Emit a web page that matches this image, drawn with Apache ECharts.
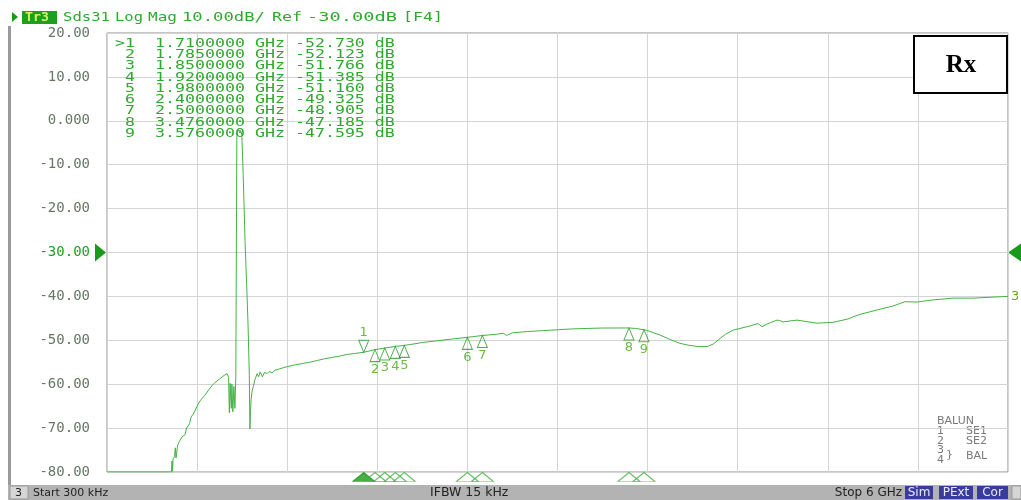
<!DOCTYPE html>
<html><head><meta charset="utf-8">
<script src="https://cdn.jsdelivr.net/npm/echarts@6/dist/echarts.min.js"></script>
<style>html,body{margin:0;padding:0;background:#fff;}#c{width:1021px;height:500px;}</style>
</head><body><div id="c"></div><script>
// ---- data ----
const traceFreqGHz = [0.0003,0.43,0.433,0.437,0.44,0.45,0.455,0.46,0.47,0.48,0.49,0.50,0.51,0.52,0.53,0.55,0.56,0.58,0.60,0.62,0.65,0.68,0.70,0.72,0.75,0.78,0.80,
  0.81,0.815,0.82,0.828,0.832,0.838,0.845,0.852,0.858,0.865,0.872,0.88,0.89,0.898,0.905,0.912,0.92,0.93,0.94,0.948,0.952,0.956,0.96,0.967,0.975,0.985,
  1.0,1.01,1.02,1.035,1.05,1.066,1.08,1.10,1.12,1.15,1.2,1.25,1.3,1.35,1.4,1.45,1.5,1.55,1.6,1.65,1.71,1.785,1.85,1.92,1.98,2.05,2.1,2.2,2.3,2.4,2.5,
  2.6,2.64,2.66,2.7,2.8,2.9,3.0,3.1,3.2,3.3,3.4,3.476,3.52,3.576,3.6,3.683,3.75,3.816,3.87,3.93,4.0,4.04,4.082,4.12,4.169,4.262,4.335,4.362,4.395,
  4.462,4.48,4.502,4.595,4.728,4.835,4.928,5.014,5.127,5.234,5.314,5.394,5.5,5.634,5.767,5.88,6.0];
const traceMagDB = [-80,-80,-77.5,-79.8,-77,-76.5,-74.5,-76.8,-74,-73.2,-73.5,-72,-71.8,-71.5,-70,-69,-67.5,-66.5,-65,-63.8,-62.6,-61.2,-60.3,-59.6,-58.8,-58,-57.6,
  -58.5,-66.5,-59.8,-65.5,-60,-66.3,-60.5,-65.5,-58.5,-3.5,-2.2,-1.8,-2.2,-3.2,-10,-18,-28,-37,-47,-58,-70.2,-66,-63.5,-61.5,-60.5,-59,
  -57.6,-58.3,-57.2,-58.3,-57.3,-57.6,-57.1,-57.4,-56.8,-56.5,-56.0,-55.6,-55.3,-55.0,-54.6,-54.2,-53.9,-53.6,-53.2,-53.0,-52.73,-52.12,-51.77,-51.39,-51.16,-50.8,-50.5,-50.1,-49.7,-49.33,-48.91,
  -48.6,-48.4,-48.9,-48.3,-48.0,-47.8,-47.6,-47.4,-47.3,-47.2,-47.2,-47.19,-47.3,-47.6,-47.8,-48.8,-49.8,-50.7,-51.1,-51.4,-51.4,-50.8,-49.6,-48.6,-47.7,-46.9,-46.2,-46.9,-46.3,
  -45.4,-45.5,-45.8,-45.4,-46.1,-45.9,-45.2,-44.1,-43.1,-42.2,-41.2,-41.3,-40.8,-40.4,-40.4,-40.2,-40.0];
const markerIds = ['1','2','3','4','5','6','7','8','9'];
const markerFreqGHz = [1.71,1.785,1.85,1.92,1.98,2.4,2.5,3.476,3.576];
const markerMagDB = [-52.730,-52.123,-51.766,-51.385,-51.160,-49.325,-48.905,-47.185,-47.595];
const yTickValues = [20,10,0,-10,-20,-30,-40,-50,-60,-70,-80];
const yTickLabels = ['20.00','10.00','0.000','-10.00','-20.00','-30.00','-40.00','-50.00','-60.00','-70.00','-80.00'];
const startFreqGHz = 0.0003, stopFreqGHz = 6, refLevelDB = -30, divisions = 10;
const headerParts = [['Sds31',63,47],['Log',115,28],['Mag',148,29],['10.00dB/',182,83],['Ref',272,30],['-30.00dB',307,90],['[F4]',403,40]];

// ---- chart ----
const chart = echarts.init(document.getElementById('c'), null, {renderer:'canvas'});
const G = '#30a830';
const trace = traceFreqGHz.map((f,i)=>[f,traceMagDB[i]]);
const upMarkers = markerIds.slice(1).map((id,i)=>({name:id,value:[markerFreqGHz[i+1],markerMagDB[i+1]]}));
const axisMarks = markerIds.map((id,i)=>({name:id,value:[markerFreqGHz[i],-80],
  itemStyle: i===0?{color:'#1a9a1a',borderColor:'#1a9a1a'}:{color:'rgba(0,0,0,0)',borderColor:'#44b044'}}));
const mono = '"DejaVu Sans Mono", monospace';
const MW = 7.83; // mono advance at 13px

const graphics = [];
// header
graphics.push({type:'polygon',shape:{points:[[12,12],[18,17],[12,22]]},style:{fill:'#1a9a1a'}});
graphics.push({type:'rect',shape:{x:22,y:11,width:35,height:13},style:{fill:'#1ea01e'}});
graphics.push({type:'text',x:25,y:17.5,scaleX:1.1,style:{text:'Tr3',font:'bold 12px '+mono,fill:'#d8f060',textVerticalAlign:'middle',verticalAlign:'middle'}});
headerParts.forEach(p=>graphics.push({type:'text',x:p[1],y:17.5,scaleX:p[2]/(p[0].length*MW),style:{text:p[0],font:'13px '+mono,fill:G,textVerticalAlign:'middle',verticalAlign:'middle'}}));
// left frame bar
graphics.push({type:'rect',shape:{x:8,y:26,width:3,height:459},style:{fill:'#9a9a9a'}});
// marker table
markerIds.forEach((id,i)=>{
  const row=(i===0?'>':' ')+id+'  '+markerFreqGHz[i].toFixed(7)+' GHz '+markerMagDB[i].toFixed(3)+' dB';
  graphics.push({type:'text',x:115,y:43.5+i*11.25,scaleX:1.277,z:10,style:{text:row,font:'13px '+mono,fill:G,textVerticalAlign:'middle',verticalAlign:'middle'}});
});
// Rx box
graphics.push({type:'rect',shape:{x:914,y:36,width:93,height:57},style:{fill:'#fff',stroke:'#000',lineWidth:2},z:10});
graphics.push({type:'text',x:961,y:66,z:11,style:{text:'Rx',font:'bold 25px "Liberation Serif", serif',fill:'#000',textAlign:'center',align:'center',textVerticalAlign:'middle',verticalAlign:'middle'}});
// BALUN legend
const lg='#7a7a7a', lf='11px "DejaVu Sans", sans-serif';
[['BALUN',937,421],['1',937,431],['SE1',966,431],['2',937,441],['SE2',966,441],['3',937,450],['4',937,460],['}',946,455],['BAL',966,456]].forEach(t=>
  graphics.push({type:'text',x:t[1],y:t[2],style:{text:t[0],font:lf,fill:lg,textVerticalAlign:'middle',verticalAlign:'middle'}}));
// status bar
graphics.push({type:'rect',shape:{x:8,y:485,width:1013,height:15},style:{fill:'#b3b3b3'}});
graphics.push({type:'rect',shape:{x:10,y:486,width:18,height:13},style:{fill:'#d6d6d6',stroke:'#999',lineWidth:1}});
graphics.push({type:'rect',shape:{x:1012,y:486,width:9,height:13},style:{fill:'#d6d6d6',stroke:'#999',lineWidth:1}});
const sf='11px "DejaVu Sans", sans-serif';
graphics.push({type:'text',x:15,y:493,style:{text:'3',font:sf,fill:'#222',textVerticalAlign:'middle',verticalAlign:'middle'}});
graphics.push({type:'text',x:33,y:493,style:{text:'Start 300 kHz',font:sf,fill:'#222',textVerticalAlign:'middle',verticalAlign:'middle'}});
graphics.push({type:'text',x:430,y:493,style:{text:'IFBW 15 kHz',font:'12.5px "DejaVu Sans", sans-serif',fill:'#222',textVerticalAlign:'middle',verticalAlign:'middle'}});
graphics.push({type:'text',x:902,y:493,style:{text:'Stop 6 GHz',font:'12px "DejaVu Sans", sans-serif',fill:'#222',textAlign:'right',align:'right',textVerticalAlign:'middle',verticalAlign:'middle'}});
[['Sim',905,28],['PExt',939,34],['Cor',977,31]].forEach(b=>{
  graphics.push({type:'rect',shape:{x:b[1],y:486,width:b[2],height:13},style:{fill:'#3a3c9c'}});
  graphics.push({type:'text',x:b[1]+b[2]/2,y:493,style:{text:b[0],font:'12px "DejaVu Sans", sans-serif',fill:'#e8e8ff',textAlign:'center',align:'center',textVerticalAlign:'middle',verticalAlign:'middle'}});
});

chart.setOption({
  animation:false,
  backgroundColor:'#fff',
  grid:{left:107,right:13,top:33,bottom:28,show:true,borderColor:'#8c8c8c',borderWidth:1,backgroundColor:'rgba(0,0,0,0)'},
  xAxis:[
    {type:'value',min:0,max:divisions,interval:1,axisLabel:{show:false},axisTick:{show:false},axisLine:{show:false},
     splitLine:{show:true,lineStyle:{color:'#d4d4d4',width:1}}},
    {type:'value',min:startFreqGHz,max:stopFreqGHz,show:false,splitLine:{show:false}}
  ],
  yAxis:{type:'value',min:-80,max:20,interval:10,axisLine:{show:false},axisTick:{show:false},
    splitLine:{show:true,lineStyle:{color:'#d4d4d4',width:1}},
    axisLabel:{margin:17,fontFamily:'DejaVu Sans Mono',fontSize:14,
      color:(v)=> (+v===refLevelDB?'#22a022':'#667766'),
      formatter:(v)=>{const k=yTickValues.indexOf(v);return k>=0?yTickLabels[k]:'';}}},
  series:[
    {type:'line',xAxisIndex:1,data:trace,symbol:'none',lineStyle:{color:'#44b244',width:1},z:3,
     endLabel:{show:true,formatter:'3',color:'#6aaa10',fontSize:13,fontFamily:'DejaVu Sans',distance:3}},
    {type:'scatter',xAxisIndex:1,clip:false,z:5,data:[{name:markerIds[0],value:[markerFreqGHz[0],markerMagDB[0]]}],
     symbol:'path://M0,0L10,0L5,12Z',symbolSize:[10,12],symbolOffset:[0,-6],
     itemStyle:{color:'rgba(0,0,0,0)',borderColor:'#2a9a2a',borderWidth:1},
     label:{show:true,position:'top',distance:1,formatter:'{b}',color:'#48a818',fontSize:13,fontFamily:'DejaVu Sans'}},
    {type:'scatter',xAxisIndex:1,clip:false,z:5,data:upMarkers,
     symbol:'triangle',symbolSize:[10,12],symbolOffset:[0,6],
     itemStyle:{color:'rgba(0,0,0,0)',borderColor:'#2a9a2a',borderWidth:1},
     label:{show:true,position:'bottom',distance:1,formatter:'{b}',color:'#48a818',fontSize:13,fontFamily:'DejaVu Sans'}},
    {type:'scatter',xAxisIndex:1,clip:false,z:4,data:axisMarks,
     symbol:'triangle',symbolSize:[22,9],symbolOffset:[0,5],itemStyle:{borderWidth:1}}
  ],
  graphic:graphics
});
// reference level arrows
const ry = chart.convertToPixel({yAxisIndex:0}, refLevelDB);
chart.setOption({graphic:graphics.concat([
  {type:'polygon',shape:{points:[[95,ry-9],[106,ry],[95,ry+9]]},style:{fill:'#1a9a1a'}},
  {type:'polygon',shape:{points:[[1021,ry-9],[1008,ry],[1021,ry+9]]},style:{fill:'#1a9a1a'}}
])});
</script></body></html>
